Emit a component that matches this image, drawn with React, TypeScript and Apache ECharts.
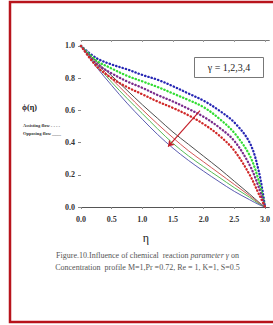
import React, { useEffect, useRef } from "react";
import * as echarts from "echarts";

const eta = [0, 0.25, 0.5, 0.75, 1.0, 1.25, 1.5, 1.75, 2.0, 2.25, 2.5, 2.75, 2.9, 3.0];

// Assisting flow (dotted), gamma = 1..4
const assistBlue = [1.0, 0.925, 0.885, 0.855, 0.82, 0.79, 0.75, 0.705, 0.66, 0.6, 0.525, 0.4, 0.22, 0];
const assistGreen = [1.0, 0.91, 0.86, 0.815, 0.78, 0.745, 0.705, 0.665, 0.62, 0.55, 0.46, 0.32, 0.16, 0];
const assistPurple = [1.0, 0.89, 0.83, 0.78, 0.74, 0.695, 0.655, 0.61, 0.56, 0.495, 0.41, 0.26, 0.12, 0];
const assistRed = [1.0, 0.875, 0.8, 0.745, 0.7, 0.655, 0.615, 0.57, 0.515, 0.445, 0.35, 0.2, 0.08, 0];

// Opposing flow (solid)
const opposeBlack = [1.0, 0.905, 0.815, 0.725, 0.635, 0.55, 0.465, 0.39, 0.315, 0.24, 0.16, 0.08, 0.03, 0];
const opposeRed = [1.0, 0.895, 0.795, 0.7, 0.605, 0.515, 0.43, 0.35, 0.28, 0.21, 0.14, 0.07, 0.025, 0];
const opposeGreen = [1.0, 0.885, 0.775, 0.675, 0.58, 0.485, 0.395, 0.318, 0.25, 0.185, 0.12, 0.06, 0.02, 0];
const opposeBlue = [1.0, 0.87, 0.755, 0.645, 0.545, 0.45, 0.365, 0.29, 0.222, 0.158, 0.097, 0.045, 0.015, 0];

const arrowStart = [1.94, 0.598];
const arrowEnd = [1.42, 0.375];

const xTicks = [0, 0.5, 1.0, 1.5, 2.0, 2.5, 3.0];
const yTicks = [0, 0.2, 0.4, 0.6, 0.8, 1.0];

const legendText = "γ = 1,2,3,4";
const yTitle = "ϕ(η)";
const xTitle = "η";
const note1 = "Assisting flow - - - -";
const note2 = "Opposing flow ____";
const caption1a = "Figure.10.Influence of chemical  reaction ";
const caption1b = "parameter γ";
const caption1c = " on";
const caption2 = "Concentration  profile M=1,Pr =0.72, Re = 1, K=1, S=0.5";

const pair = (ys: number[]) => eta.map((x, i) => [x, ys[i]]);

export default function App() {
  const ref = useRef<HTMLDivElement>(null);
  useEffect(() => {
    if (!ref.current) return;
    const chart = echarts.init(ref.current, null, { renderer: "svg" });
    const font = "'Liberation Serif', 'Times New Roman', serif";
    const dotted = (name: string, data: number[], color: string) => ({
      name,
      type: "line",
      data: pair(data),
      smooth: 0.35,
      showSymbol: false,
      lineStyle: { color, width: 2.3, type: [0.4, 3.0], cap: "round" },
      z: 3,
    });
    const solid = (name: string, data: number[], color: string) => ({
      name,
      type: "line",
      data: pair(data),
      smooth: 0.35,
      showSymbol: false,
      lineStyle: { color, width: 0.9 },
      z: 2,
    });
    chart.setOption({
      animation: false,
      backgroundColor: "#ffffff",
      grid: { left: 81, top: 40, width: 192.4, height: 172 },
      xAxis: [
        {
          type: "value",
          min: 0,
          max: 3.07,
          axisLine: { show: true, lineStyle: { color: "#555", width: 1 } },
          axisTick: { show: true, inside: false, length: 2, customValues: xTicks, lineStyle: { color: "#888" } },
          axisLabel: {
            customValues: xTicks,
            formatter: (v: number) => v.toFixed(1),
            fontFamily: font,
            fontSize: 8,
            fontWeight: "bold",
            color: "#333",
            margin: 3,
          },
          splitLine: { show: false },
        },
        {
          type: "value",
          position: "top",
          min: 0,
          max: 3.07,
          axisLine: { show: true, lineStyle: { color: "#777", width: 1 } },
          axisTick: { show: true, inside: true, length: 2, customValues: xTicks, lineStyle: { color: "#999" } },
          axisLabel: { show: false },
          splitLine: { show: false },
        },
      ],
      yAxis: {
        type: "value",
        min: -0.031,
        max: 1.037,
        axisLine: { show: false },
        axisTick: { show: true, length: 3, customValues: yTicks, lineStyle: { color: "#888" } },
        axisLabel: {
          customValues: yTicks,
          formatter: (v: number) => v.toFixed(1),
          fontFamily: font,
          fontSize: 8,
          fontWeight: "bold",
          color: "#333",
          margin: 6,
        },
        splitLine: { show: false },
      },
      series: [
        solid("Opposing γ=1", opposeBlack, "#3a3a3a"),
        solid("Opposing γ=2", opposeRed, "#cc4444"),
        solid("Opposing γ=3", opposeGreen, "#44b444"),
        solid("Opposing γ=4", opposeBlue, "#4a4aa8"),
        dotted("Assisting γ=1", assistBlue, "#2626b4"),
        dotted("Assisting γ=2", assistGreen, "#33dd33"),
        dotted("Assisting γ=3", assistPurple, "#7a2c8c"),
        dotted("Assisting γ=4", assistRed, "#d02828"),
        {
          type: "lines",
          coordinateSystem: "cartesian2d",
          symbol: ["none", "arrow"],
          symbolSize: 6,
          lineStyle: { color: "#c4202a", width: 1.2, opacity: 1 },
          data: [{ coords: [arrowStart, arrowEnd] }],
          z: 5,
        },
      ],
      graphic: [
        {
          type: "rect",
          shape: { x: 10, y: 2, width: 300, height: 320 },
          style: { fill: "none", stroke: "#b8141c", lineWidth: 2.5 },
          z: 10,
        },
        {
          type: "rect",
          shape: { x: 194.5, y: 57.5, width: 69, height: 20 },
          style: { fill: "#fff", stroke: "#777", lineWidth: 1 },
          z: 10,
        },
        {
          type: "text",
          x: 229,
          y: 67.5,
          style: { text: legendText, font: `10px ${font}`, fill: "#222", align: "center", verticalAlign: "middle" },
          z: 11,
        },
        {
          type: "text",
          x: 22,
          y: 107,
          style: { text: yTitle, font: `bold 8px ${font}`, fill: "#222", align: "left", verticalAlign: "middle" },
        },
        {
          type: "text",
          x: 23,
          y: 125,
          style: { text: note1, font: `bold 4.5px ${font}`, fill: "#333", align: "left", verticalAlign: "middle" },
        },
        {
          type: "text",
          x: 23,
          y: 133,
          style: { text: note2, font: `bold 4.5px ${font}`, fill: "#333", align: "left", verticalAlign: "middle" },
        },
        {
          type: "text",
          x: 146,
          y: 238,
          style: { text: xTitle, font: `12px ${font}`, fill: "#222", align: "center", verticalAlign: "middle" },
        },
        {
          type: "text",
          x: 147.5,
          y: 255,
          style: {
            text: `{a|${caption1a}}{i|${caption1b}}{a|${caption1c}}`,
            align: "center",
            verticalAlign: "middle",
            rich: {
              a: { font: `8px ${font}`, fill: "#555" },
              i: { font: `italic 8px ${font}`, fill: "#555" },
            },
          },
        },
        {
          type: "text",
          x: 147.5,
          y: 267,
          style: { text: caption2, font: `8px ${font}`, fill: "#555", align: "center", verticalAlign: "middle" },
        },
      ],
    });
    return () => chart.dispose();
  }, []);
  return (
    <div
      ref={ref}
      style={{ position: "absolute", left: 0, top: 0, width: 273, height: 325 }}
    />
  );
}
